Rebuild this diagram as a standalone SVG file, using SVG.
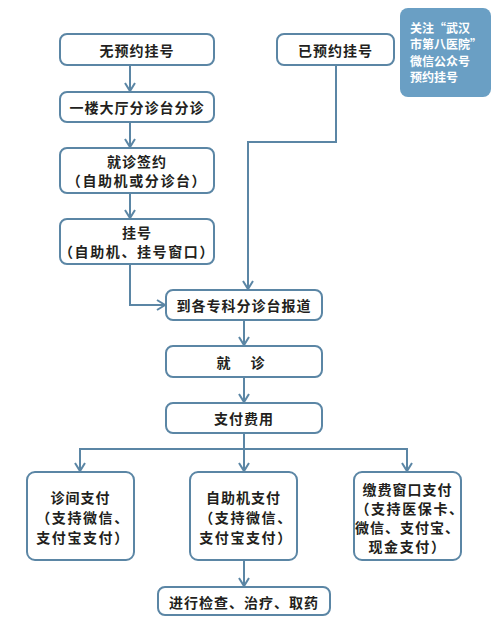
<svg xmlns="http://www.w3.org/2000/svg" width="493" height="617" viewBox="0 0 493 617">
<style>
.box{fill:#fff;stroke:#5b86a5;stroke-width:2}
.t{font-family:"Noto Sans CJK SC","Noto Sans",sans-serif;font-weight:bold;font-size:14px;fill:#231f20;text-anchor:middle;dominant-baseline:central;letter-spacing:1px}
.p{letter-spacing:1.6px}
.w{font-family:"Noto Sans CJK SC","Noto Sans",sans-serif;font-weight:bold;font-size:12px;fill:#fff;dominant-baseline:central}
.c{fill:none;stroke:#5b86a5;stroke-width:2}
</style>
<defs>
<marker id="ah" viewBox="0 0 12 12" refX="10" refY="6" markerWidth="12" markerHeight="12" markerUnits="userSpaceOnUse" orient="auto">
<path d="M2,1 L10,6 L2,11" fill="none" stroke="#5b86a5" stroke-width="2"/>
</marker>
</defs>
<rect width="493" height="617" fill="#fff"/>
<g id="connectors" class="c">
<path d="M130,65 V91" marker-end="url(#ah)"/>
<path d="M130,122 V147" marker-end="url(#ah)"/>
<path d="M130,193 V218" marker-end="url(#ah)"/>
<path d="M130,264 V305 H165" marker-end="url(#ah)"/>
<path d="M336,65 V142 H248 V289" marker-end="url(#ah)"/>
<path d="M244,320 V345" marker-end="url(#ah)"/>
<path d="M244,377 V402" marker-end="url(#ah)"/>
<path d="M244,433 V471" marker-end="url(#ah)"/>
<path d="M80,471 V449 H407 V471" marker-end="url(#ah)"/>
<path d="M80,449 V471" marker-end="url(#ah)"/>
<path d="M244,560 V586" marker-end="url(#ah)"/>
</g>
<g id="n1"><rect class="box" x="60" y="34" width="154" height="31" rx="7"/><text class="t" x="137" y="49.5">无预约挂号</text></g>
<g id="n2"><rect class="box" x="60" y="92" width="154" height="30" rx="7"/><text class="t" x="137" y="107">一楼大厅分诊台分诊</text></g>
<g id="n3"><rect class="box" x="60" y="148" width="154" height="45" rx="7"/><text class="t" x="137" y="161">就诊签约</text><text class="t p" x="137" y="180">（自助机或分诊台）</text></g>
<g id="n4"><rect class="box" x="60" y="219" width="154" height="45" rx="7"/><text class="t" x="137" y="232">挂号</text><text class="t p" x="137" y="251">（自助机、挂号窗口）</text></g>
<g id="n5"><rect class="box" x="277" y="34" width="117" height="31" rx="7"/><text class="t" x="335.5" y="49.5">已预约挂号</text></g>
<g id="n6"><rect x="400" y="8" width="91" height="89" rx="8" fill="#6a9fc4"/><text class="w" x="410" y="27">关注“武汉</text><text class="w" x="410" y="43.5">市第八医院”</text><text class="w" x="410" y="60">微信公众号</text><text class="w" x="410" y="76.5">预约挂号</text></g>
<g id="n7"><rect class="box" x="166" y="290" width="156" height="30" rx="7"/><text class="t" x="244" y="305">到各专科分诊台报道</text></g>
<g id="n8"><rect class="box" x="166" y="346" width="156" height="31" rx="7"/><text class="t" x="242" y="361.5" style="letter-spacing:3px">就　诊</text></g>
<g id="n9"><rect class="box" x="166" y="403" width="156" height="30" rx="7"/><text class="t" x="244" y="418">支付费用</text></g>
<g id="n10"><rect class="box" x="27" y="472" width="107" height="88" rx="8"/><text class="t" x="80.5" y="497">诊间支付</text><text class="t p" x="83" y="517">（支持微信、</text><text class="t p" x="83" y="537">支付宝支付）</text></g>
<g id="n11"><rect class="box" x="190" y="472" width="107" height="88" rx="8"/><text class="t" x="243.5" y="497">自助机支付</text><text class="t p" x="246" y="517">（支持微信、</text><text class="t p" x="246" y="537">支付宝支付）</text></g>
<g id="n12"><rect class="box" x="354" y="472" width="107" height="88" rx="8"/><text class="t" x="407.5" y="489">缴费窗口支付</text><text class="t p" x="410" y="508">（支持医保卡、</text><text class="t" x="407.5" y="527">微信、支付宝、</text><text class="t p" x="407.5" y="546">现金支付）</text></g>
<g id="n13"><rect class="box" x="158" y="587" width="172" height="28" rx="7"/><text class="t" x="244" y="601.5">进行检查、治疗、取药</text></g>
</svg>
